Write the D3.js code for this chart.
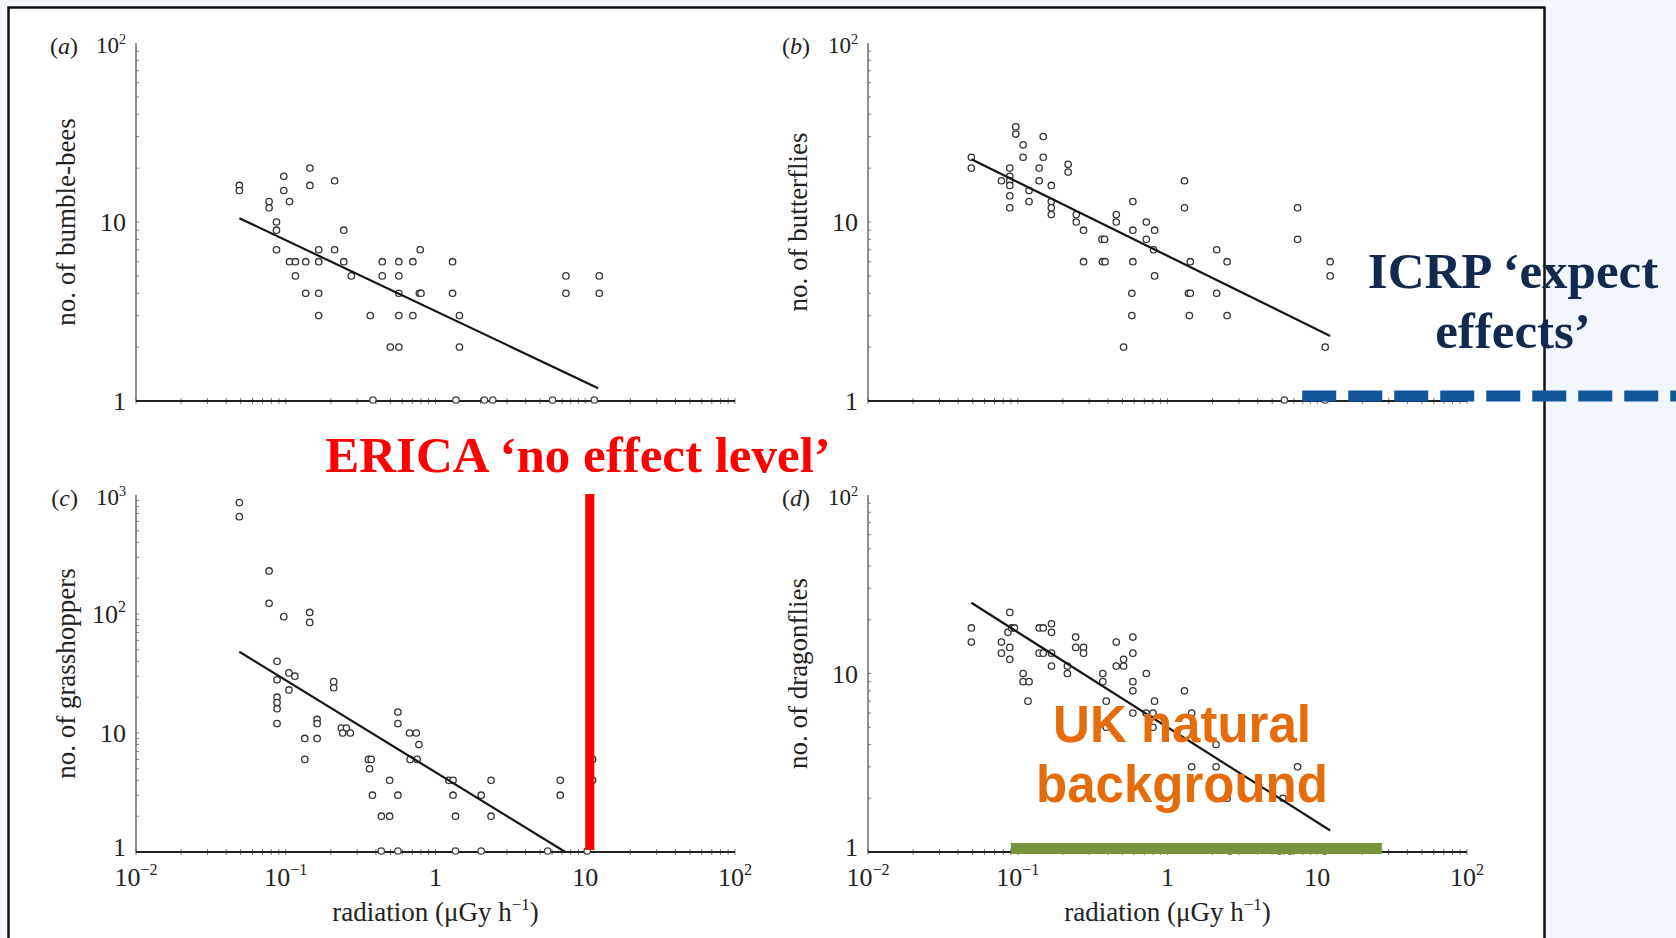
<!DOCTYPE html>
<html>
<head>
<meta charset="utf-8">
<script src="https://cdn.jsdelivr.net/npm/d3@7"></script>
<style>
	body { margin: 0; background: #f3f6fc; }
	svg { display: block; }
</style>
</head>
<body>
<div id="visuals"></div>
<script>
/* global d3 */
var width = 1676;
var height = 938;

// (a) bumble-bees : [radiation uGy/h, count]
var bees_points = [
	[0.049,16],[0.049,15],[0.0774,13],[0.0774,12],[0.0867,10],[0.0867,9],[0.0867,7],
	[0.097,18],[0.097,15],[0.106,13],[0.106,6],[0.116,6],[0.116,5],[0.136,6],[0.136,4],
	[0.145,20],[0.145,16],[0.166,7],[0.166,6],[0.166,4],[0.166,3],[0.212,17],[0.212,7],
	[0.244,9],[0.244,6],[0.274,5],[0.367,3],[0.441,6],[0.441,5],[0.499,2],[0.569,2],
	[0.569,6],[0.569,5],[0.569,4],[0.569,3],[0.706,6],[0.706,3],[0.791,7],[0.78,4],[0.80,4],
	[1.30,6],[1.30,4],[1.445,3],[1.445,2],[7.43,5],[7.43,4],[12.4,5],[12.4,4]
];
var bees_zero = [0.382, 1.37, 2.12, 2.41, 6.05, 11.5];
var bees_fit = [[0.049,10.5],[12.2,1.18]];

// (b) butterflies
var butterfly_points = [
	[0.049,23],[0.049,20],[0.0778,17],[0.0885,20],[0.0885,18],[0.0885,17],[0.0885,16],
	[0.0885,14],[0.0885,12],[0.097,34],[0.097,31],[0.1086,27],[0.1086,23],[0.119,15],[0.119,13],
	[0.139,20],[0.139,17],[0.148,30],[0.148,23],[0.1675,16],[0.1675,13],[0.1675,12],[0.1675,11],
	[0.217,21],[0.217,19],[0.246,11],[0.246,10],[0.275,9],[0.275,6],[0.365,8],[0.38,8],
	[0.368,6],[0.383,6],[0.455,11],[0.455,10],[0.509,2],[0.578,4],[0.578,3],[0.587,13],
	[0.587,9],[0.587,6],[0.722,10],[0.722,8],[0.807,7],[0.82,9],[0.82,5],[1.298,17],[1.298,12],
	[1.38,4],[1.42,4],[1.40,3],[1.42,6],[2.13,7],[2.13,4],[2.50,6],[2.50,3],[7.39,12],[7.39,8],
	[11.3,2],[12.2,6],[12.2,5]
];
var butterfly_zero = [6.03, 11.3];
var butterfly_fit = [[0.049,22.4],[12.2,2.31]];

// (c) grasshoppers
var grasshopper_points = [
	[0.049,863],[0.049,658],[0.0774,230],[0.0774,123],[0.097,95],[0.1445,103],[0.1445,85],
	[0.0875,40],[0.0875,28],[0.0875,20],[0.0875,18],[0.0875,16],[0.0875,12],[0.105,32],[0.105,23],
	[0.115,30],[0.162,13],[0.162,12],[0.134,9],[0.162,9],[0.134,6],[0.209,27],[0.209,24],
	[0.235,11],[0.254,11],[0.27,10],[0.24,10],[0.357,6],[0.372,6],[0.363,5],[0.379,3],
	[0.435,2],[0.494,2],[0.494,4],[0.561,15],[0.561,12],[0.561,3],[0.671,10],[0.744,10],
	[0.775,8],[0.677,6],[0.754,6],[1.227,4],[1.31,4],[1.31,3],[1.36,2],[2.02,3],[2.35,4],
	[2.35,2],[6.81,4],[6.81,3],[11.2,6],[11.2,4],[10.7,2]
];
var grasshopper_zero = [0.435, 0.561, 1.36, 2.02, 5.61, 10.3];
var grasshopper_fit = [[0.049,48.2],[7.36,1]];

// (d) dragonflies
var dragonfly_points = [
	[0.049,18],[0.049,15],[0.0778,15],[0.0778,13],[0.0885,22],[0.086,17],[0.091,18],[0.095,18],
	[0.0885,14],[0.0885,12],[0.1086,10],[0.1086,9],[0.119,9],[0.117,7],[0.139,18],[0.148,18],
	[0.168,19],[0.168,17],[0.139,13],[0.148,13],[0.168,13],[0.168,11],[0.2145,11],[0.2145,10],
	[0.2436,16],[0.2436,14],[0.275,14],[0.275,13],[0.37,10],[0.37,9],[0.39,7],[0.39,5],
	[0.455,15],[0.455,11],[0.509,11],[0.509,12],[0.587,16],[0.587,13],[0.587,9],[0.587,8],
	[0.587,6],[0.722,10],[0.72,6],[0.819,7],[0.80,6],[0.80,5],[1.298,8],[1.45,6],[1.45,3],
	[2.11,4],[2.11,3],[2.5,2],[5.9,2],[7.39,3]
];
var dragonfly_zero = [2.6, 5.6, 6.6, 11.2];
var dragonfly_fit = [[0.049,24.9],[12.2,1.32]];

// reference levels (uGy/h)
var erica_band = [10, 11.5];
var uk_background = [0.09, 27];
var icrp_from = 7.94;

var x_ticks = [0.01, 0.1, 1, 10, 100];
var x_tick_labels = [["10","\u22122"],["10","\u22121"],["1",""],["10",""],["10","2"]];

var serif = "'Liberation Serif','Times New Roman',serif";
var sans = "'Liberation Sans',Arial,sans-serif";

var svg = d3.select("#visuals").append("svg")
	.attr("width", width)
	.attr("height", height);

svg.append("rect").attr("width", width).attr("height", height).attr("fill", "#f3f6fc");
svg.append("rect")
	.attr("x", 8.5).attr("y", 7.5)
	.attr("width", 1536).attr("height", height + 10)
	.attr("fill", "#fff")
	.attr("stroke", "#111")
	.attr("stroke-width", 2.5);

function label_with_sup(sel, base, exp, size) {
	sel.append("tspan").text(base);
	if (exp) {
		sel.append("tspan")
			.attr("dy", -size * 0.42)
			.attr("font-size", size * 0.62)
			.text(exp);
	}
}

function draw_panel(p) {
	var g = svg.append("g")
		.attr("transform", "translate(" + p.left + "," + p.top + ")");

	var x = d3.scaleLog().domain([0.01, 100]).range([0, p.w]);
	var y = d3.scaleLog().domain(p.y_domain).range([p.h, 0]);

	// minor ticks
	var xt = [];
	for (var k = -2; k < 2; k++) for (var m = 1; m < 10; m++) xt.push(m * Math.pow(10, k));
	xt.push(100);
	var yt = [];
	var top = Math.round(Math.log10(p.y_domain[1]));
	for (var k2 = 0; k2 < top; k2++) for (var m2 = 1; m2 < 10; m2++) yt.push(m2 * Math.pow(10, k2));

	g.selectAll(".xt").data(xt).enter().append("line")
		.attr("x1", d => x(d)).attr("x2", d => x(d))
		.attr("y1", p.h - 3).attr("y2", p.h + 3)
		.attr("stroke", "#777").attr("stroke-width", 1);

	g.selectAll(".yt").data(yt).enter().append("line")
		.attr("x1", 0).attr("x2", 3)
		.attr("y1", d => y(d)).attr("y2", d => y(d))
		.attr("stroke", "#888").attr("stroke-width", 1);

	g.append("line").attr("x1", 0).attr("x2", 0).attr("y1", 0).attr("y2", p.h)
		.attr("stroke", "#555").attr("stroke-width", 1.3);
	g.append("line").attr("x1", 0).attr("x2", p.w).attr("y1", p.h).attr("y2", p.h)
		.attr("stroke", "#222").attr("stroke-width", 1.8);

	// y tick labels
	var yl = [];
	for (var i = 0; i <= top; i++) yl.push(i);
	yl.forEach(function(e) {
		var is_top = (e === top);
		var size = is_top ? 23 : 26;
		var dy = is_top ? "0.45em" : "0.35em";
		if (e === 0 && p.x_labels) dy = "0.15em";
		var t = g.append("text")
			.attr("x", -10).attr("y", y(Math.pow(10, e)))
			.attr("dy", dy)
			.attr("text-anchor", "end")
			.attr("font-family", serif).attr("font-size", size).attr("fill", "#222");
		if (e === 0) label_with_sup(t, "1", "", size);
		else if (e === 1) label_with_sup(t, "10", "", size);
		else label_with_sup(t, "10", String(e), size);
	});

	g.append("text")
		.attr("x", -58).attr("y", 0).attr("dy", "0.45em")
		.attr("text-anchor", "end")
		.attr("font-family", serif).attr("font-size", 24).attr("fill", "#222")
		.html("(<tspan font-style='italic'>" + p.letter + "</tspan>)");

	g.append("text")
		.attr("transform", "translate(-61," + (p.h / 2) + ") rotate(-90)")
		.attr("text-anchor", "middle")
		.attr("font-family", serif).attr("font-size", 27).attr("fill", "#222")
		.text(p.title);

	if (p.x_labels) {
		x_ticks.forEach(function(v, i) {
			var t = g.append("text")
				.attr("x", x(v)).attr("y", p.h + 34)
				.attr("text-anchor", "middle")
				.attr("font-family", serif).attr("font-size", 26).attr("fill", "#222");
			label_with_sup(t, x_tick_labels[i][0], x_tick_labels[i][1], 26);
		});
		var xt2 = g.append("text")
			.attr("x", p.w / 2).attr("y", p.h + 69)
			.attr("text-anchor", "middle")
			.attr("font-family", serif).attr("font-size", 27).attr("fill", "#222");
		xt2.append("tspan").text("radiation (\u03bcGy h");
		xt2.append("tspan").attr("dy", -11).attr("font-size", 17).text("\u22121");
		xt2.append("tspan").attr("dy", 11).text(")");
	}

	// zero counts sit on the axis
	g.selectAll(".zero").data(p.zero).enter().append("circle")
		.attr("cx", d => x(d)).attr("cy", p.h - 1)
		.attr("r", 3.2)
		.attr("fill", "#fff").attr("stroke", "#444").attr("stroke-width", 1.3);

	g.selectAll(".pt").data(p.points).enter().append("circle")
		.attr("cx", d => x(d[0])).attr("cy", d => y(d[1]))
		.attr("r", 3.2)
		.attr("fill", "#fff").attr("stroke", "#333").attr("stroke-width", 1.3);

	g.append("path")
		.datum(p.fit)
		.attr("d", d3.line().x(d => x(d[0])).y(d => y(d[1])))
		.attr("fill", "none").attr("stroke", "#151515").attr("stroke-width", 2.2);

	return {g: g, x: x, y: y};
}

var pa = draw_panel({left: 136, top: 43, w: 599, h: 358, y_domain: [1, 100], letter: "a",
	title: "no. of bumble-bees", points: bees_points, zero: bees_zero, fit: bees_fit, x_labels: false});
var pb = draw_panel({left: 868, top: 43, w: 599, h: 358, y_domain: [1, 100], letter: "b",
	title: "no. of butterflies", points: butterfly_points, zero: butterfly_zero, fit: butterfly_fit, x_labels: false});
var pc = draw_panel({left: 136, top: 495, w: 599, h: 357, y_domain: [1, 1000], letter: "c",
	title: "no. of grasshoppers", points: grasshopper_points, zero: grasshopper_zero, fit: grasshopper_fit, x_labels: true});
var pd = draw_panel({left: 868, top: 495, w: 599, h: 357, y_domain: [1, 100], letter: "d",
	title: "no. of dragonflies", points: dragonfly_points, zero: dragonfly_zero, fit: dragonfly_fit, x_labels: true});

// ERICA bar in (c)
pc.g.append("rect")
	.attr("x", pc.x(erica_band[0]))
	.attr("width", pc.x(erica_band[1]) - pc.x(erica_band[0]))
	.attr("y", pc.y(1000) - 1)
	.attr("height", pc.y(1) - pc.y(1000) - 1)
	.attr("fill", "#ff0000");

// UK natural background in (d)
pd.g.append("rect")
	.attr("x", pd.x(uk_background[0]))
	.attr("width", pd.x(uk_background[1]) - pd.x(uk_background[0]))
	.attr("y", pd.y(1) - 9)
	.attr("height", 11)
	.attr("fill", "#77933c");

// ICRP dashed line from (b) to page edge
pb.g.append("line")
	.attr("x1", pb.x(icrp_from)).attr("x2", width - 868)
	.attr("y1", pb.y(1) - 5).attr("y2", pb.y(1) - 5)
	.attr("stroke", "#11559b").attr("stroke-width", 11)
	.attr("stroke-dasharray", "34,12");

var notes = svg.append("g");
notes.append("text")
	.attr("x", 578).attr("y", 472)
	.attr("text-anchor", "middle")
	.attr("font-family", serif).attr("font-weight", "bold").attr("font-size", 51)
	.attr("fill", "#ff0000")
	.text("ERICA \u2018no effect level\u2019");

var icrp = notes.append("text")
	.attr("text-anchor", "middle")
	.attr("font-family", serif).attr("font-weight", "bold").attr("font-size", 51)
	.attr("fill", "#132a4e");
icrp.append("tspan").attr("x", 1513).attr("y", 288).text("ICRP \u2018expect");
icrp.append("tspan").attr("x", 1513).attr("y", 348).text("effects\u2019");

var uk = notes.append("text")
	.attr("text-anchor", "middle")
	.attr("font-family", sans).attr("font-weight", "bold").attr("font-size", 51)
	.attr("fill", "#e46c0a");
uk.append("tspan").attr("x", 1182).attr("y", 742).text("UK natural");
uk.append("tspan").attr("x", 1182).attr("y", 802).text("background");
</script>
</body>
</html>
